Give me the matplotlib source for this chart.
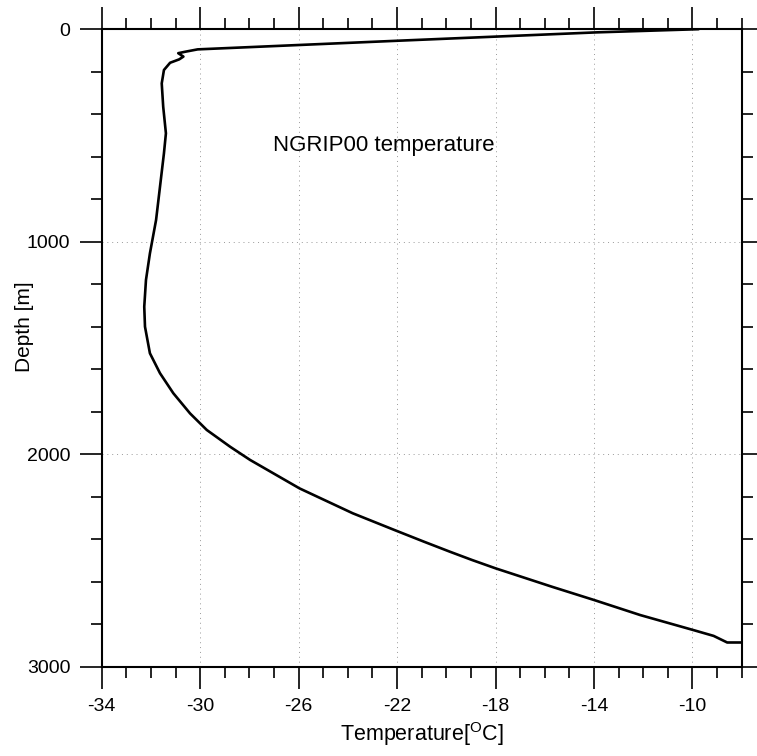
import matplotlib
matplotlib.use("Agg")
import matplotlib.pyplot as plt
from matplotlib.ticker import MultipleLocator

plt.rcParams['font.family'] = ['Liberation Sans', 'DejaVu Sans']
plt.rcParams['mathtext.fontset'] = 'custom'
plt.rcParams['mathtext.rm'] = 'Liberation Sans'
plt.rcParams['axes.unicode_minus'] = False

# Data (temperature in degC vs depth in m)
depth = [0, 15, 54, 74, 95, 106, 113, 129, 142, 158, 192, 255, 365, 490, 584,
         741, 898, 1055, 1180, 1306, 1400, 1525, 1619, 1713, 1808, 1886, 1965,
         2027, 2161, 2278, 2357, 2412, 2459, 2498, 2537, 2624, 2686, 2757,
         2827, 2855, 2886, 2886]
temperature = [-9.75, -13.9, -21.9, -25.9, -30.1, -30.6, -30.89, -30.68, -30.85,
               -31.22, -31.47, -31.56, -31.5, -31.39, -31.47, -31.63, -31.79,
               -32.04, -32.2, -32.27, -32.24, -32.04, -31.63, -31.09, -30.41,
               -29.73, -28.78, -27.97, -25.96, -23.8, -22.1, -20.9, -19.85,
               -18.95, -18.0, -15.7, -14.0, -12.12, -9.98, -9.14, -8.59, -8.0]

x_ticks = [-34, -30, -26, -22, -18, -14, -10]
y_ticks = [0, 1000, 2000, 3000]
annotation = "NGRIP00 temperature"

fig = plt.figure(figsize=(7.57, 7.56), dpi=100)
ax = fig.add_axes([0.1343, 0.1181, 0.8455, 0.8433])

ax.plot(temperature, depth, color='black', linewidth=1.9,
        solid_joinstyle='round', solid_capstyle='round')

ax.set_xlim(-34, -8)
ax.set_ylim(3000, 0)
ax.set_xticks(x_ticks)
ax.set_yticks(y_ticks)
ax.xaxis.set_minor_locator(MultipleLocator(1))
ax.yaxis.set_minor_locator(MultipleLocator(200))

ax.tick_params(which='both', direction='out', top=True, right=True,
               labeltop=False, labelright=False, width=1.2, colors='black')
ax.tick_params(which='major', length=15.5, labelsize=14, pad=7)
ax.tick_params(which='minor', length=8)

for s in ax.spines.values():
    s.set_linewidth(1.5)

ax.grid(True, which='major', linestyle=(0, (1, 4)), color='0.6', linewidth=0.7)

ax.text(-27.04, 547, annotation, fontsize=16, ha='left', va='center')

ax.set_xlabel(r'Temperature[$^{\mathrm{O}}$C]', fontsize=15.5, labelpad=4)
ax.set_ylabel('Depth [m]', fontsize=15, labelpad=6)
ax.yaxis.set_label_coords(-0.105, 0.533)

fig.savefig('out.png', dpi=100)
